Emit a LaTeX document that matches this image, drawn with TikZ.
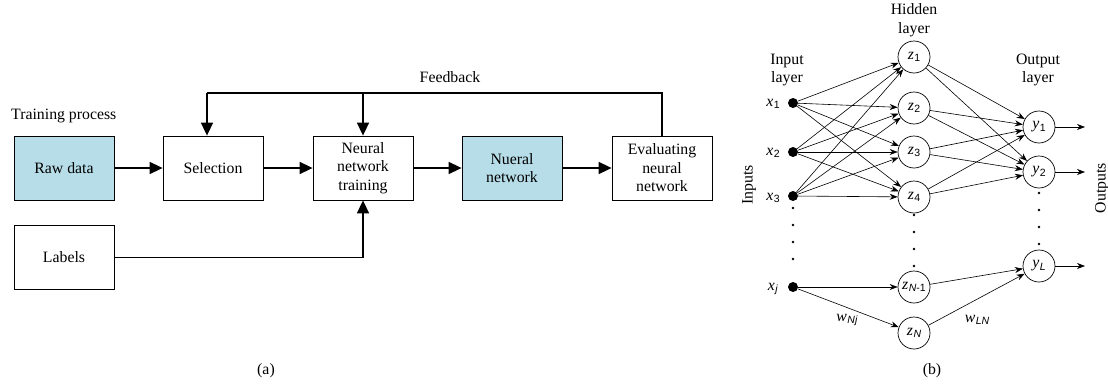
\documentclass[tikz,border=0pt]{standalone}
\usepackage{fontspec}
\setmainfont{Liberation Serif}
\setsansfont{Liberation Sans}
\usetikzlibrary{arrows.meta}
\definecolor{boxblue}{HTML}{B7DDE8}
\newcommand\vlab[2]{\textit{#1}\kern0.5pt\raisebox{-0.35ex}{\fontsize{10.5}{11}\sffamily #2}}
\begin{document}
\begin{tikzpicture}[x=1pt,y=-1pt,
  every node/.style={font=\fontsize{15.8}{18.5}\selectfont},
  blk/.style={draw, line width=0.8pt, minimum width=100pt, minimum height=64pt, align=center, inner sep=2pt},
  bluefill/.style={fill=boxblue},
  flow/.style={line width=1.6pt, -{Triangle[length=13pt,width=12pt]}},
  fline/.style={line width=1.6pt},
  neu/.style={draw, circle, minimum size=32pt, inner sep=0pt, line width=0.7pt},
  inp/.style={circle, fill=black, minimum size=10pt, inner sep=0pt},
  con/.style={line width=0.6pt, -{Stealth[length=8pt,width=6pt]}},
  smalldot/.style={circle, fill=black, minimum size=2.6pt, inner sep=0pt},
  lbl/.style={align=center, inner sep=0pt}
]
\useasboundingbox (0,0) rectangle (1108,383);

% ---------- (a) ----------
\node[lbl, anchor=west] (tp) at (11,116) {Training process};
\node[blk, bluefill] (raw) at (64,168) {Raw data};
\node[blk] (lab) at (64,257.5) {Labels};
\node[blk] (sel) at (213,168) {Selection};
\node[blk] (nnt) at (363,168) {Neural\\network\\training};
\node[blk, bluefill] (nn) at (512,168) {Nueral\\network};
\node[blk] (ev) at (662,168) {Evaluating\\neural\\network};
\node[lbl] (fb) at (450,77) {Feedback};

\draw[flow] (raw) -- (sel);
\draw[flow] (sel) -- (nnt);
\draw[flow] (nnt) -- (nn);
\draw[flow] (nn) -- (ev);
\coordinate (fbL) at (207,93);
\coordinate (fbM) at (363,93);
\draw[fline] (ev.north) |- (fbL);
\draw[flow] (fbL) -- (fbL |- sel.north);
\draw[flow] (fbM) -- (nnt.north);
\draw[flow] (lab.east) -| (nnt.south);

\node[lbl] (capa) at (266,371) {(a)};

% ---------- (b) ----------
\node[lbl] (hid) at (914,20) {Hidden\\layer};
\node[lbl] (inl) at (787,70) {Input\\layer};
\node[lbl] (outl) at (1038,70) {Output\\layer};
\node[lbl, rotate=90] (ins) at (749,185) {Inputs};
\node[lbl, rotate=90] (outs) at (1102,188) {Outputs};

\node[inp] (x1) at (793,103) {};
\node[inp] (x2) at (793,152) {};
\node[inp] (x3) at (793,196) {};
\node[inp] (xj) at (793,287) {};
\node[lbl] (lx1) at (773,104) {\vlab{x}{1}};
\node[lbl] (lx2) at (773,153) {\vlab{x}{2}};
\node[lbl] (lx3) at (773,198) {\vlab{x}{3}};
\node[lbl] (lxj) at (773,289) {\vlab{x}{\textit{j}}};

\node[neu] (z1) at (914,57) {\vlab{z}{1}};
\node[neu] (z2) at (914,108) {\vlab{z}{2}};
\node[neu] (z3) at (914,152) {\vlab{z}{3}};
\node[neu] (z4) at (914,197) {\vlab{z}{4}};
\node[neu] (zn1) at (914,287) {\vlab{z}{\textit{N}-1}};
\node[neu] (zn) at (914,333) {\vlab{z}{\textit{N}}};

\node[neu] (y1) at (1039,127) {\vlab{y}{1}};
\node[neu] (y2) at (1039,172) {\vlab{y}{2}};
\node[neu] (yl) at (1039,266) {\vlab{y}{\textit{L}}};

\coordinate (o1) at (1085,127);
\coordinate (o2) at (1085,172);
\coordinate (ol) at (1085,266);
\draw[con] (y1) -- (o1);
\draw[con] (y2) -- (o2);
\draw[con] (yl) -- (ol);

\foreach \i in {x1,x2,x3}{
  \foreach \j in {z1,z2,z3,z4}{
    \draw[con] (\i) -- (\j);
  }
}
\draw[con] (xj) -- (zn1);
\draw[con] (xj) -- (zn);
\foreach \i in {z1,z2,z3,z4}{
  \draw[con] (\i) -- (y1);
  \draw[con] (\i) -- (y2);
}
\draw[con] (zn1) -- (yl);
\draw[con] (zn) -- (yl);

\node[lbl] (wnj) at (847,320) {\vlab{w}{\textit{Nj}}};
\node[lbl] (wln) at (977,320) {\vlab{w}{\textit{LN}}};

\foreach \yy [count=\k] in {208,225,242,259}{
  \node[smalldot] (dx\k) at (793,\yy) {};
}
\foreach \yy [count=\k] in {215,232,249,266}{
  \node[smalldot] (dz\k) at (914,\yy) {};
}
\foreach \yy [count=\k] in {193,210,227,244}{
  \node[smalldot] (dy\k) at (1039,\yy) {};
}

\node[lbl] (capb) at (932,371) {(b)};
\end{tikzpicture}
\end{document}
